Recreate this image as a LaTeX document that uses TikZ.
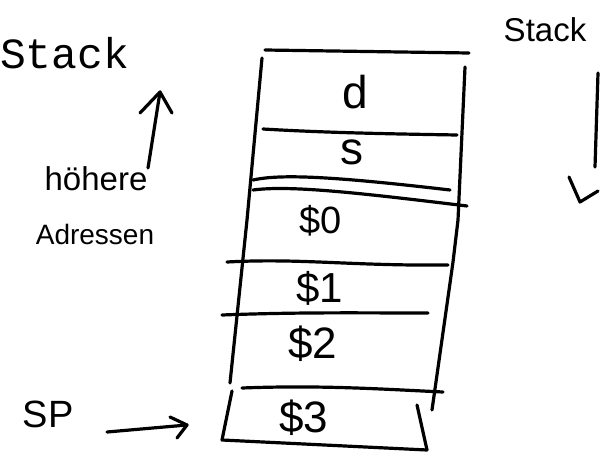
\documentclass[tikz,border=0pt]{standalone}
\usepackage{fontspec}
\setmainfont{Liberation Sans}
\newfontfamily\monofam{Liberation Mono}
\tikzset{
  pen/.style={line width=3.2pt, line cap=round, line join=round, black},
  hand/.style={inner sep=0pt, font=#1},
  hand/.default={\fontsize{36}{36}\selectfont}
}
\begin{document}
\begin{tikzpicture}[x=1pt,y=-1pt]
\useasboundingbox (0,0) rectangle (607,452);
% typed title
\node[inner sep=0pt, anchor=base west, font=\monofam\fontsize{43}{43}\selectfont] (title) at (0,68) {Stack};
% stack outline
\draw[pen] (265,50) -- (469,53);
\draw[pen] (262,58) -- (247,220) -- (230,383);
\draw[pen] (465,67) -- (458,220) -- (453,262) -- (432,410);
% separators
\draw[pen] (263,129) .. controls (330,133) and (400,134) .. (457,135);
\draw[pen] (253,180) .. controls (280,174) and (330,176) .. (450,190);
\draw[pen] (253,190) .. controls (290,185) and (360,193) .. (467,206);
\draw[pen] (227,262) .. controls (300,258) and (350,266) .. (448,265);
\draw[pen] (222,315) .. controls (300,312) and (360,313) .. (428,313);
\draw[pen] (242,388) .. controls (320,385) and (380,389) .. (443,392);
% bottom cell
\draw[pen] (232,391) -- (222,440) -- (427,450) -- (417,405);
% cell labels
\node[hand={\fontsize{46}{46}\selectfont}] (d) at (355,92) {d};
\node[hand={\fontsize{46}{46}\selectfont}] (s) at (352,152) {s};
\node[hand={\fontsize{38}{38}\selectfont}] (r0) at (321,221) {\$0};
\node[hand={\fontsize{42}{42}\selectfont}] (r1) at (320,288) {\$1};
\node[hand={\fontsize{44}{44}\selectfont}] (r2) at (313,344) {\$2};
\node[hand={\fontsize{44}{44}\selectfont}] (r3) at (304,418) {\$3};
% left annotation
\node[hand={\fontsize{33}{33}\selectfont}] (hoeh) at (96,179) {höhere};
\node[hand={\fontsize{28}{28}\selectfont}] (adr) at (95,234) {Adressen};
\coordinate (upA) at (148,168);
\coordinate (upB) at (160,92);
\draw[pen] (upA) -- (upB);
\draw[pen] (140,113) -- (upB) -- (172,113);
% right annotation
\node[hand={\fontsize{33}{33}\selectfont}] (stk) at (545,30) {Stack};
\coordinate (dnA) at (598,73);
\coordinate (dnB) at (595,167);
\draw[pen] (dnA) -- (dnB);
\draw[pen] (569,177) -- (580,202) -- (598,191);
% SP pointer
\node[hand={\fontsize{38}{38}\selectfont}] (sp) at (48,414) {SP};
\coordinate (spA) at (107,432);
\coordinate (spB) at (187,425);
\draw[pen] (spA) -- (spB);
\draw[pen] (170,417) -- (spB) -- (177,438);
\end{tikzpicture}
\end{document}
